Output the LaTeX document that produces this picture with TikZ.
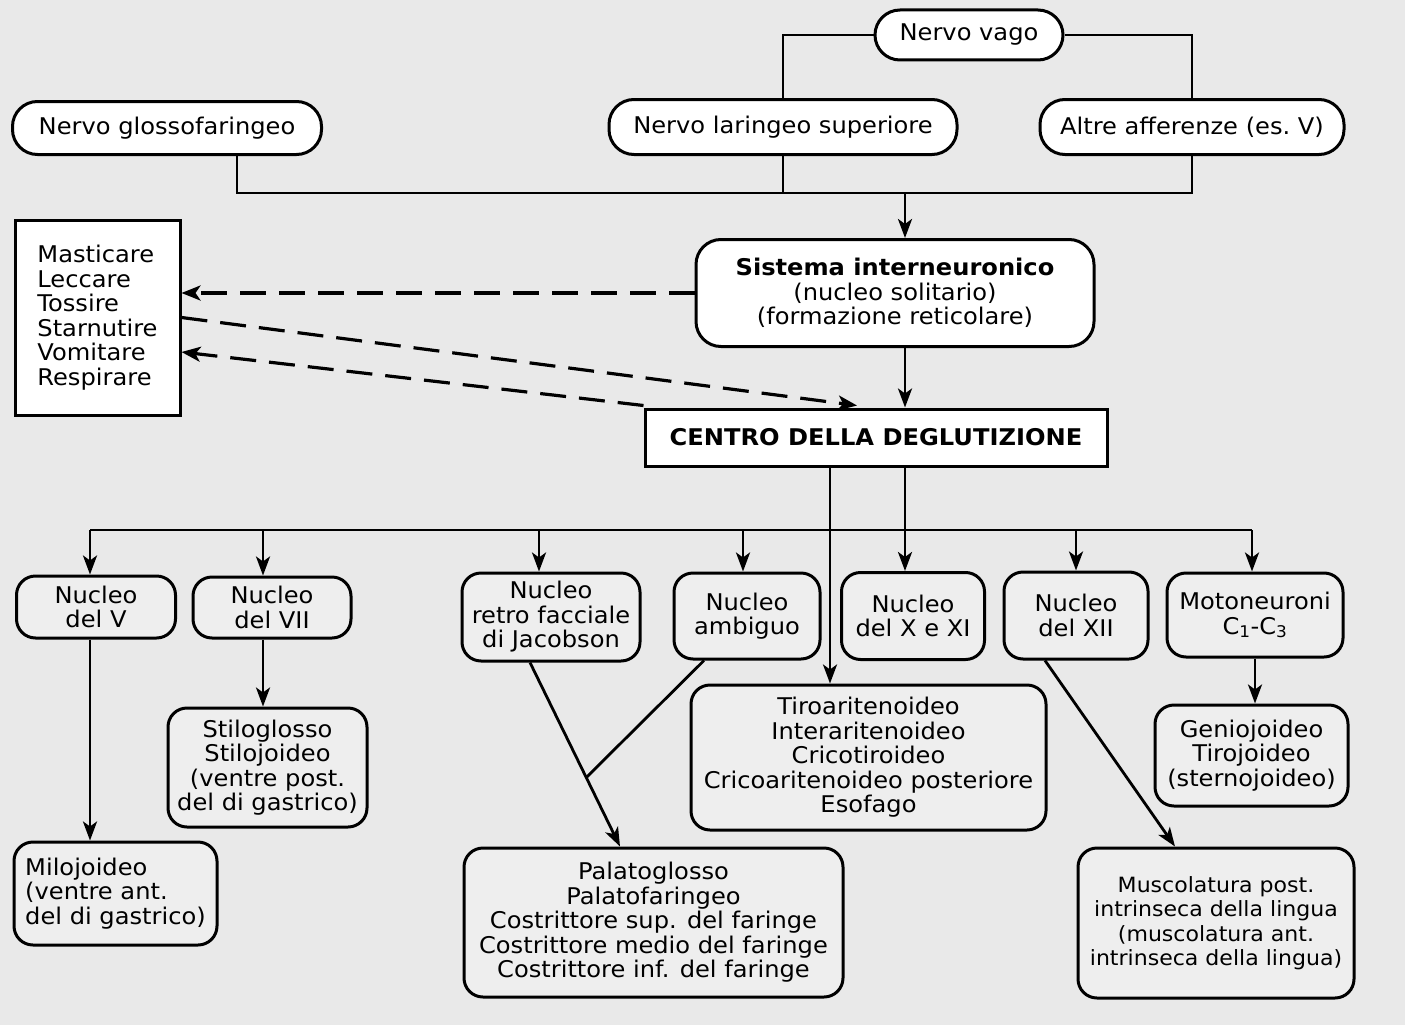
\documentclass[tikz,border=0pt]{standalone}
\usepackage{fontspec}
\setmainfont[FakeStretch=1.05]{DejaVu Sans}
\usetikzlibrary{arrows.meta,calc}
\definecolor{bgg}{gray}{0.915}
\definecolor{boxg}{gray}{0.935}
\begin{document}
\begin{tikzpicture}[x=1pt,y=-1pt,
  box/.style={draw, line width=3pt, align=center, inner sep=0pt,
    font=\fontsize{23}{24.5}\selectfont},
  pill/.style={box, fill=white, rounded corners=25pt},
  nuc/.style={box, fill=boxg, rounded corners=19pt},
  conn/.style={line width=2.8pt},
  arr/.style={conn, -{Stealth[length=19pt,width=14pt,inset=5pt]}},
  dasharr/.style={line width=3.2pt, dash pattern=on 26pt off 13pt, -{Stealth[length=19pt,width=15pt,inset=5pt]}}
]
\fill[bgg] (0,0) rectangle (1405,1025);

% top afferents
\node[pill, minimum width=188pt, minimum height=50pt] (vago) at (969,35) {Nervo vago};
\node[pill, minimum width=309pt, minimum height=53pt] (glosso) at (167,128) {Nervo glossofaringeo};
\node[pill, minimum width=348pt, minimum height=55pt] (laring) at (783,127) {Nervo laringeo superiore};
\node[pill, minimum width=304pt, minimum height=55pt] (altre) at (1192,127) {Altre afferenze (es.~V)};

\node[box, fill=white, rounded corners=25pt, minimum width=398pt, minimum height=107pt] (sis) at (895,293)
  {\textbf{Sistema interneuronico}\\(nucleo solitario)\\(formazione reticolare)};
\node[box, fill=white, minimum width=165pt, minimum height=195pt, align=left] (att) at (97.5,317.5)
  {Masticare\\Leccare\\Tossire\\Starnutire\\Vomitare\\Respirare};
\node[box, fill=white, minimum width=462pt, minimum height=57pt] (centro) at (876,437.5)
  {\textbf{CENTRO DELLA DEGLUTIZIONE}};

% nuclei
\node[nuc, minimum width=159pt, minimum height=62pt] (nV) at (96,607) {Nucleo\\del V};
\node[nuc, minimum width=158pt, minimum height=61pt] (nVII) at (272,607.5) {Nucleo\\del VII};
\node[nuc, minimum width=178pt, minimum height=88pt] (nRF) at (551,617) {Nucleo\\retro facciale\\di Jacobson};
\node[nuc, minimum width=146pt, minimum height=86pt] (nAmb) at (747,616) {Nucleo\\ambiguo};
\node[nuc, minimum width=143pt, minimum height=87pt] (nX) at (913,616) {Nucleo\\del X e XI};
\node[nuc, minimum width=144pt, minimum height=87pt] (nXII) at (1076,615.5) {Nucleo\\del XII};
\node[nuc, minimum width=176pt, minimum height=84pt] (nMot) at (1255,615) {Motoneuroni\\C\textsubscript{1}-C\textsubscript{3}};

% muscles
\node[nuc, minimum width=203pt, minimum height=103pt, align=left] (milo) at (115.5,893.5)
  {Milojoideo\\(ventre ant.\\del di gastrico)};
\node[nuc, minimum width=199pt, minimum height=119pt] (stilo) at (267.5,767.5)
  {Stiloglosso\\Stilojoideo\\(ventre post.\\del di gastrico)};
\node[nuc, minimum width=379pt, minimum height=149pt] (palato) at (653.5,922.5)
  {Palatoglosso\\Palatofaringeo\\Costrittore sup. del faringe\\Costrittore medio del faringe\\Costrittore inf. del faringe};
\node[nuc, minimum width=355pt, minimum height=145pt] (tiro) at (868.5,757.5)
  {Tiroaritenoideo\\Interaritenoideo\\Cricotiroideo\\Cricoaritenoideo posteriore\\Esofago};
\node[nuc, minimum width=193pt, minimum height=101pt] (genio) at (1251.5,755.5)
  {Geniojoideo\\Tirojoideo\\(sternojoideo)};
\node[nuc, minimum width=276pt, minimum height=150pt, font=\fontsize{21}{24.5}\selectfont] (musc) at (1216,923)
  {Muscolatura post.\\intrinseca della lingua\\(muscolatura ant.\\intrinseca della lingua)};

% afferent connectors
\coordinate (j) at (0,193);
\coordinate (ax) at (905,0);
\draw[conn] (vago.west) -| (laring.north);
\draw[conn] (vago.east) -| (altre.north);
\draw[conn] ([xshift=70pt]glosso.south) |- (altre.south |- j) -- (altre.south);
\draw[conn] (laring.south) -- (laring.south |- j);
\draw[arr] (j -| ax) -- (sis.north -| ax);
\draw[arr] (sis.south -| ax) -- (centro.north -| ax);

% dashed
\draw[dasharr] (sis.west) -- (att.east |- sis.west);
\draw[dasharr] (att.east) -- ($(centro.north)+(-19,-2)$);
\draw[dasharr] ($(centro.north west)+(0,-2)$) -- ($(att.east)+(0,34.5)$);

% bus
\coordinate (a1) at (90,530);
\coordinate (a2) at (263,530);
\coordinate (a3) at (539,530);
\coordinate (a4) at (743,530);
\coordinate (a6) at (1076,530);
\coordinate (a7) at (1252,530);
\coordinate (tx) at (830,0);
\draw[conn] (a1) -- (a7);
\draw[arr] (centro.south -| ax) -- (nX.north -| ax);
\draw[arr] (a1) -- (nV.north -| a1);
\draw[arr] (a2) -- (nVII.north -| a2);
\draw[arr] (a3) -- (nRF.north -| a3);
\draw[arr] (a4) -- (nAmb.north -| a4);
\draw[arr] (a6) -- (nXII.north -| a6);
\draw[arr] (a7) -- (nMot.north -| a7);
\draw[arr] (centro.south -| tx) -- (tiro.north -| tx);

% nuclei to muscles
\draw[arr] (nV.south -| a1) -- (milo.north -| a1);
\draw[arr] (nVII.south -| a2) -- (stilo.north -| a2);
\draw[arr] (nMot.south) -- (genio.north -| nMot.south);
\coordinate (rfs) at ($(nRF.south)+(-21,0)$);
\coordinate (pal) at ($(palato.north)+(-33.5,0)$);
\coordinate (jn) at ($(rfs)!0.625!(pal)$);
\draw[arr] (rfs) -- (pal);
\draw[conn] ($(nAmb.south)+(-43,0)$) -- (jn);
\draw[arr] ($(nXII.south)+(-31,0)$) -- ($(musc.north)+(-41,0)$);
\end{tikzpicture}
\end{document}
